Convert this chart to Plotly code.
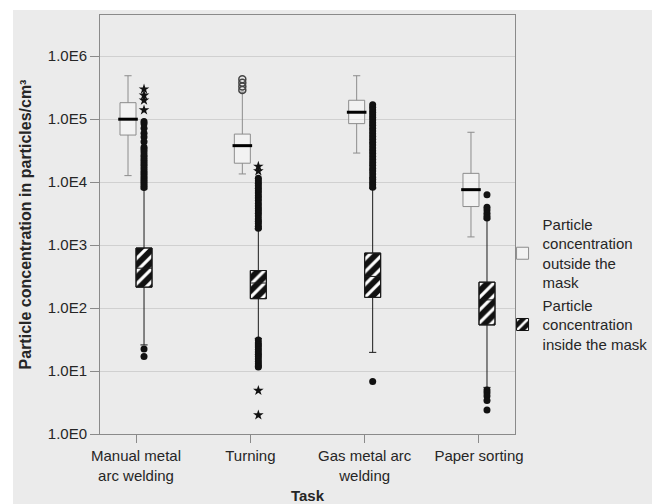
import plotly.graph_objects as go

# ---------------- data ----------------
tasks = ["Manual metal<br>arc welding", "Turning", "Gas metal arc<br>welding", "Paper sorting"]

# Particle concentration outside the mask (particles/cm³)
out_lo  = [12700, 13500, 29000, 1350]
out_q1  = [56000, 20000, 85000, 4100]
out_med = [100000, 38000, 129000, 7600]
out_q3  = [183000, 58000, 200000, 13800]
out_hi  = [490000, 270000, 490000, 62000]
out_circles = [[], [430000, 380000, 330000, 290000], [], []]

# Particle concentration inside the mask (particles/cm³)
in_lo  = [26, 33, 19.8, 5.5]
in_q1  = [215, 141, 148, 54]
in_med = [430, 250, 318, 135]
in_q3  = [900, 395, 748, 258]
in_hi  = [7800, 1800, 8000, 2600]
in_circles = [
    [92000, 85000, 72000, 60000, 52000, 44000, 36000, 33000, 30000, 27000, 25000,
     23000, 21000, 19500, 18000, 16500, 15000, 14000, 13000, 12000, 11000, 10200,
     9500, 8800, 8200, 22.4, 17],
    [11500, 10500, 9600, 8800, 8000, 7300, 6700, 6100, 5600, 5100, 4600, 4200,
     3800, 3500, 3200, 2900, 2600, 2400, 2200, 2000, 1860,
     31, 28, 26, 24, 22, 20, 18.5, 17, 15.5, 14.2, 13, 12, 11.6],
    [170000, 155000, 140000, 128000, 117000, 106000, 97000, 88000, 80000, 72000,
     65000, 59000, 53000, 48000, 43000, 39000, 35000, 31500, 28500, 25500, 23000,
     20500, 18500, 16500, 15000, 13500, 12000, 11000, 10000, 9100, 8300, 6.8],
    [6300, 4000, 3600, 3200, 2900, 2700, 5.0, 4.5, 4.0, 3.4, 2.4],
]
in_stars = [[300000, 240000, 200000, 140000], [17800, 15000, 4.9, 2.0], [], []]

# ---------------- layout helpers ----------------
idx = list(range(len(tasks)))
OFF = 0.07
W = 0.14
x_out = [i - OFF for i in idx]
x_in = [i + OFF for i in idx]

FONT = "Arial, Liberation Sans, sans-serif"
TXT = "#262626"
BG = "#ebebeb"

ML, MR, MT, MB = 92, 145, 7, 70
FW, FH = 652, 496
PW, PH = FW - ML - MR, FH - MT - MB

fig = go.Figure()

# hatched boxes (inside the mask)
fig.add_trace(go.Bar(
    x=x_in, y=[q3 - q1 for q1, q3 in zip(in_q1, in_q3)], base=in_q1, width=W,
    opacity=1,
    marker=dict(color="#111111", opacity=1, line=dict(color="#111111", width=1),
                pattern=dict(shape="/", fgcolor="#ffffff", fgopacity=1, fillmode="overlay",
                             size=9, solidity=0.35)),
    name="Particle<br>concentration<br>inside the mask", legendrank=2, hoverinfo="skip",
))

# outside boxes
fig.add_trace(go.Box(
    x=x_out, q1=out_q1, median=out_med, q3=out_q3, lowerfence=out_lo, upperfence=out_hi,
    width=W, whiskerwidth=0.45, boxpoints=False,
    line=dict(color="#8c8c8c", width=1), fillcolor="rgba(255,255,255,0.35)",
    name="Particle<br>concentration<br>outside the<br>mask", legendrank=1,
))

# inside boxes (outline + whiskers)
fig.add_trace(go.Box(
    x=x_in, q1=in_q1, median=in_med, q3=in_q3, lowerfence=in_lo, upperfence=in_hi,
    width=W, whiskerwidth=0.45, boxpoints=False,
    line=dict(color="#1a1a1a", width=1), fillcolor="rgba(0,0,0,0)",
    showlegend=False,
))

# thick median bars of outside boxes
fig.add_trace(go.Scatter(
    x=x_out, y=out_med, mode="markers", showlegend=False, hoverinfo="skip",
    marker=dict(symbol="line-ew", size=14, line=dict(color="black", width=3)),
))

# outliers
def flat(groups, xs):
    X, Y = [], []
    for xv, g in zip(xs, groups):
        for v in g:
            X.append(xv)
            Y.append(v)
    return X, Y

xo, yo = flat(out_circles, x_out)
fig.add_trace(go.Scatter(
    x=xo, y=yo, mode="markers", showlegend=False,
    marker=dict(symbol="circle-open", size=7, color="#444444", line=dict(width=1.5)),
))
xc, yc = flat(in_circles, x_in)
fig.add_trace(go.Scatter(
    x=xc, y=yc, mode="markers", showlegend=False,
    marker=dict(symbol="circle", size=7, color="#111111"),
))
xs, ys = flat(in_stars, x_in)
fig.add_trace(go.Scatter(
    x=xs, y=ys, mode="markers", showlegend=False,
    marker=dict(symbol="star", size=8, color="#111111"),
))

fig.update_layout(
    width=FW, height=FH,
    margin=dict(l=ML, r=MR, t=MT, b=MB, autoexpand=False),
    paper_bgcolor=BG, plot_bgcolor=BG,
    font=dict(family=FONT, size=15, color=TXT),
    barmode="overlay", boxmode="overlay",
    legend=dict(x=0.97, y=0.54, xanchor="left", yanchor="top",
                bgcolor="rgba(0,0,0,0)", font=dict(size=15, color=TXT),
                tracegroupgap=0),
    shapes=[
        dict(type="rect", xref="paper", yref="paper", x0=-0.5, x1=1.5,
             y0=1 + (MT - 2) / PH, y1=1 + (MT + 5) / PH, fillcolor="white",
             line=dict(width=0), layer="below"),
        dict(type="rect", xref="paper", yref="paper", x0=-(ML + 5) / PW, x1=-(ML - 5) / PW,
             y0=-0.5, y1=1.5, fillcolor="white", line=dict(width=0), layer="below"),
    ],
)

fig.update_xaxes(
    tickmode="array", tickvals=idx, ticktext=tasks, range=[-0.315, 3.315],
    showgrid=False, zeroline=False, automargin=False,
    showline=True, linecolor="#8a8a8a", linewidth=1, mirror=True,
    ticks="outside", ticklen=8, tickcolor="#8a8a8a",
    tickfont=dict(size=15, color=TXT),
    title=dict(text="<b>Task</b>", font=dict(size=15, color=TXT), standoff=8),
)
fig.update_yaxes(
    type="log", range=[0, 6.655], automargin=False,
    tickmode="array", tickvals=[1, 10, 100, 1e3, 1e4, 1e5, 1e6],
    ticktext=["1.0E0", "1.0E1", "1.0E2", "1.0E3", "1.0E4", "1.0E5", "1.0E6"],
    showgrid=True, gridcolor="#d0d0d0", gridwidth=1, zeroline=False,
    showline=True, linecolor="#8a8a8a", linewidth=1, mirror=True,
    ticks="outside", ticklen=9, tickcolor="#8a8a8a",
    tickfont=dict(size=15, color=TXT),
    title=dict(text="<b>Particle concentration in particles/cm³</b>",
               font=dict(size=16, color=TXT), standoff=12),
)

fig.write_html("out.html")
